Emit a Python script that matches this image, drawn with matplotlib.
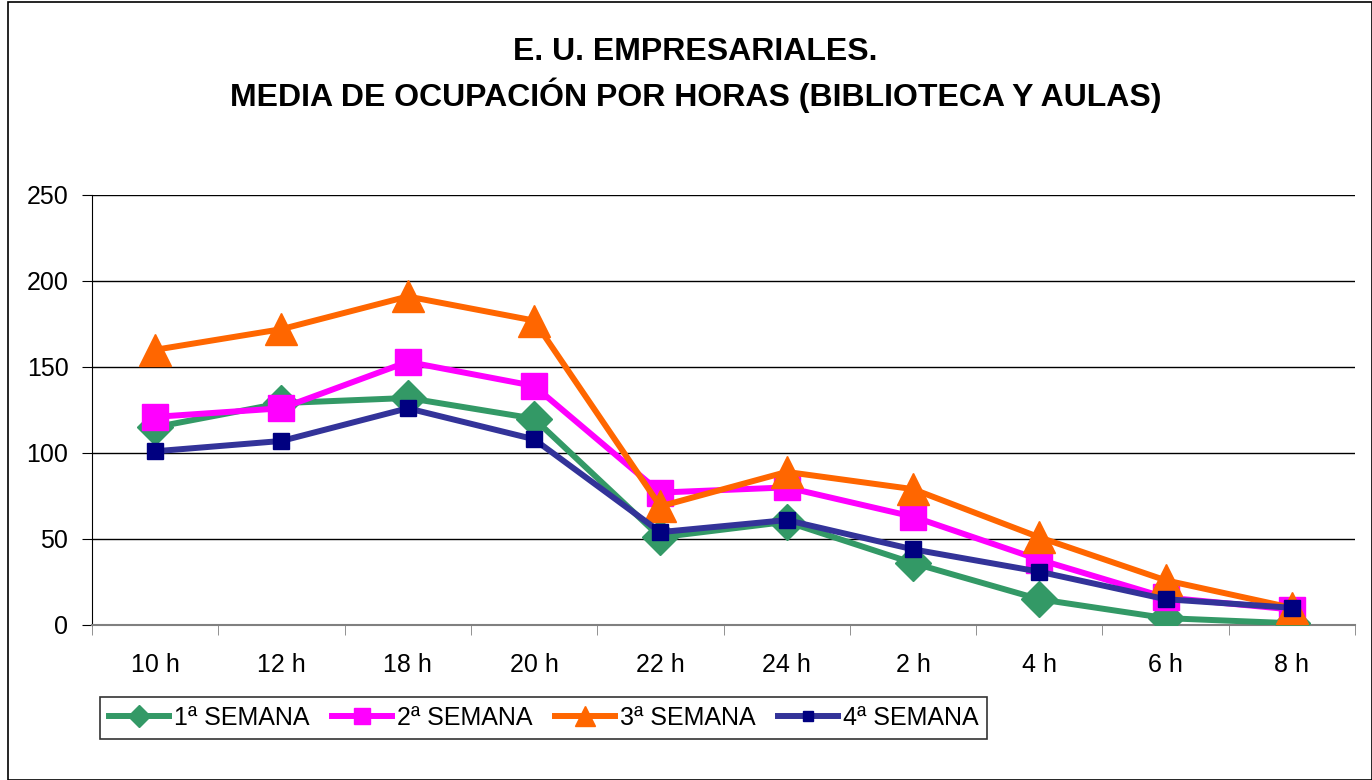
import matplotlib
matplotlib.use("Agg")
import matplotlib.pyplot as plt
from matplotlib.patches import Rectangle

plt.rcParams['font.family'] = ['Liberation Sans', 'DejaVu Sans']

categories = ["10 h", "12 h", "18 h", "20 h", "22 h", "24 h", "2 h", "4 h", "6 h", "8 h"]
semana1 = [115, 129, 132, 120, 51, 60, 36, 15, 4, 1]
semana2 = [121, 126, 153, 139, 77, 80, 63, 38, 16, 9]
semana3 = [160, 172, 191, 177, 69, 89, 79, 51, 26, 10]
semana4 = [101, 107, 126, 108, 54, 61, 44, 31, 15, 10]
labels = ["1ª SEMANA", "2ª SEMANA", "3ª SEMANA", "4ª SEMANA"]
yticks = [0, 50, 100, 150, 200, 250]

fig = plt.figure(figsize=(13.72, 7.80), dpi=100)
fig.patches.append(Rectangle((0.006, 0.0), 0.994, 0.998, transform=fig.transFigure,
                             fill=False, edgecolor='black', linewidth=1.2))
ax = fig.add_axes([92/1372, 1-625/780, (1355-92)/1372, (625-195)/780])

x = list(range(len(categories)))
ax.plot(x, semana1, color='#339966', lw=4.3, marker='D', ms=18, mfc='#339966', mec='#339966', label=labels[0], zorder=3)
ax.plot(x, semana2, color='#FF00FF', lw=4.3, marker='s', ms=19, mfc='#FF00FF', mec='#FF00FF', label=labels[1], zorder=4)
ax.plot(x, semana3, color='#FF6600', lw=4.3, marker='^', ms=23, mfc='#FF6600', mec='#FF6600', label=labels[2], zorder=5)
ax.plot(x, semana4, color='#333399', lw=4.3, marker='s', ms=11, mfc='#000080', mec='#000080', label=labels[3], zorder=6)

ax.set_xlim(-0.5, len(categories)-0.5)
ax.set_ylim(0, 250)
ax.set_yticks(yticks)
ax.set_yticklabels([str(v) for v in yticks], fontsize=18)
ax.set_xticks(x)
ax.set_xticklabels(categories, fontsize=18)
ax.set_xticks([i-0.5 for i in range(len(categories)+1)], minor=True)
ax.tick_params(axis='x', which='major', length=0, pad=20)
ax.tick_params(axis='x', which='minor', length=7, color='#808080', direction='out')
ax.tick_params(axis='y', length=7, direction='out', pad=10)
ax.grid(axis='y', color='black', lw=1)
ax.set_axisbelow(True)
for s in ['top', 'right']:
    ax.spines[s].set_visible(False)
ax.spines['bottom'].set_color('#808080')
ax.spines['bottom'].set_linewidth(1.5)
ax.spines['left'].set_color('black')

fig.text(0.507, 1-52/780, "E. U. EMPRESARIALES.", ha='center', va='center', fontsize=23, fontweight='bold')
fig.text(0.507, 1-95/780, "MEDIA DE OCUPACIÓN POR HORAS (BIBLIOTECA Y AULAS)", ha='center', va='center', fontsize=23, fontweight='bold')

leg = fig.legend(loc='upper left', bbox_to_anchor=(100/1372, 1-697/780), ncol=4, fontsize=18,
                 frameon=True, fancybox=False, edgecolor='black', handlelength=2.4, handletextpad=0.2,
                 columnspacing=0.9, borderpad=0.35, markerscale=0.6, borderaxespad=0)
leg.get_frame().set_linewidth(1.2)

fig.savefig("out.png", dpi=100)
